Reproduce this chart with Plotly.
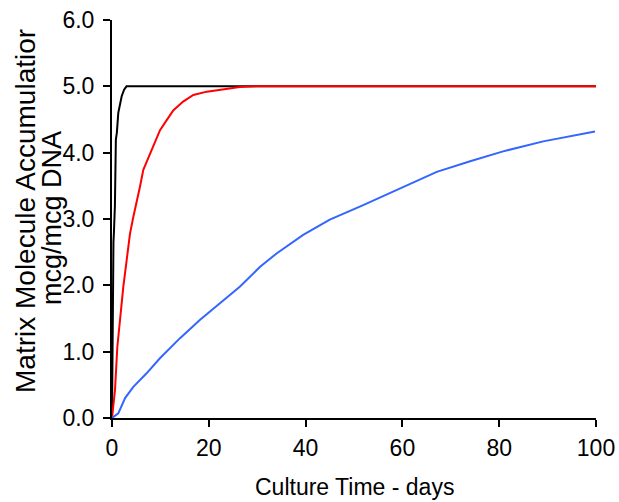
import plotly.graph_objects as go

# Black series (fast)
black_x = [0, 0.05, 0.1, 0.2, 0.3, 0.4, 0.6, 0.8, 1.0, 1.3, 1.6, 2.0, 2.5, 3.0, 100]
black_y = [0, 0.8, 1.4, 2.2, 2.65, 2.8, 3.2, 4.2, 4.3, 4.6, 4.7, 4.85, 4.95, 5.0, 5.0]

# Red series (medium)
red_x = [0, 0.3, 0.62, 1.1, 1.65, 2.34, 3.03, 3.72, 4.4, 5.1, 5.79, 6.47, 7.85, 8.88,
         9.92, 11.3, 12.7, 14.7, 16.8, 19.6, 23.0, 26.4, 29.8, 100]
red_y = [0, 0.2, 0.42, 1.07, 1.48, 1.98, 2.38, 2.78, 3.03, 3.29, 3.49, 3.74, 3.99, 4.17,
         4.34, 4.49, 4.64, 4.77, 4.87, 4.92, 4.96, 4.99, 5.0, 5.0]

# Blue series (slow)
blue_x = [0, 1.3, 2.7, 4.4, 7.1, 9.9, 14.0, 18.2, 22.3, 26.4, 30.6, 34.0, 39.5, 45.0,
          51.9, 58.8, 67.1, 74.0, 80.8, 89.1, 99.8]
blue_y = [0, 0.07, 0.3, 0.47, 0.67, 0.9, 1.2, 1.48, 1.73, 1.98, 2.28, 2.48, 2.76, 2.99,
          3.21, 3.44, 3.71, 3.87, 4.02, 4.17, 4.32]

x_ticks = [0, 20, 40, 60, 80, 100]
y_ticks = [0, 1, 2, 3, 4, 5, 6]

FONT = "Arial, Liberation Sans, sans-serif"

fig = go.Figure()
fig.add_trace(go.Scatter(x=black_x, y=black_y, mode="lines",
                         line=dict(color="#000000", width=2), showlegend=False))
fig.add_trace(go.Scatter(x=red_x, y=red_y, mode="lines",
                         line=dict(color="#FF0000", width=2), showlegend=False))
fig.add_trace(go.Scatter(x=blue_x, y=blue_y, mode="lines",
                         line=dict(color="#3366FF", width=2), showlegend=False))

fig.update_layout(
    width=619, height=502,
    margin=dict(l=112, r=23, t=20, b=84, autoexpand=False),
    paper_bgcolor="white", plot_bgcolor="white",
    font=dict(family=FONT, color="black"),
    xaxis=dict(range=[0, 100], tickvals=x_ticks, showgrid=False, zeroline=False,
               automargin=False,
               showline=True, linecolor="black", linewidth=2,
               ticks="outside", ticklen=7, tickwidth=2, tickcolor="black",
               tickfont=dict(size=23, family=FONT), ticklabelstandoff=1),
    yaxis=dict(range=[0, 6], tickvals=y_ticks, tickformat=".1f", showgrid=False,
               automargin=False,
               zeroline=False, showline=True, linecolor="black", linewidth=2,
               ticks="outside", ticklen=7, tickwidth=2, tickcolor="black",
               tickfont=dict(size=23, family=FONT), ticklabelstandoff=4),
    annotations=[
        dict(text="Culture Time - days", xref="paper", yref="paper", x=0.5, y=0,
             xanchor="center", yanchor="middle", yshift=-69, showarrow=False,
             font=dict(size=23, family=FONT)),
        dict(text="Matrix Molecule Accumulatior", xref="paper", yref="paper", x=0, y=0.5,
             xanchor="center", yanchor="middle", xshift=-87, yshift=8, textangle=-90,
             showarrow=False, font=dict(size=28, family=FONT)),
        dict(text="mcg/mcg DNA", xref="paper", yref="paper", x=0, y=0.5,
             xanchor="center", yanchor="middle", xshift=-60, yshift=1, textangle=-90,
             showarrow=False, font=dict(size=27, family=FONT)),
    ],
)

fig.write_html("out.html")
